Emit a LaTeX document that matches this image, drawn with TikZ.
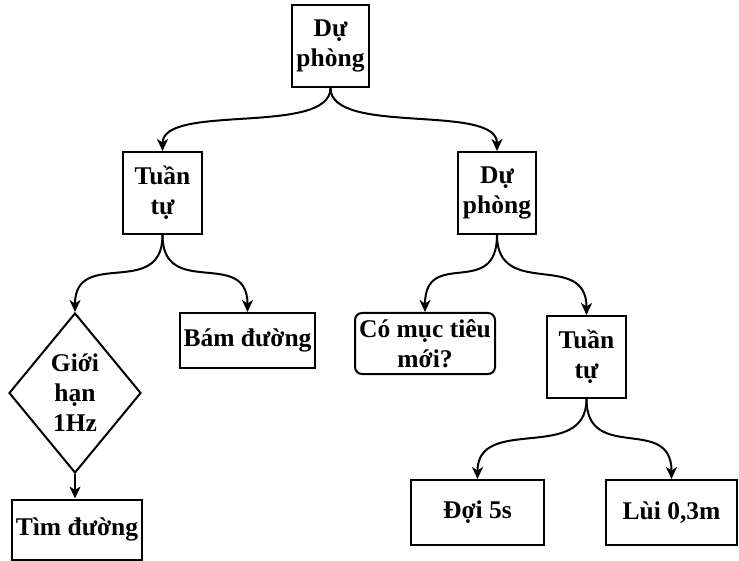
\documentclass[tikz,border=0pt]{standalone}
\usepackage{fontspec}
\setmainfont{Liberation Serif}
\usetikzlibrary{shapes.geometric,arrows.meta}
\begin{document}
\begin{tikzpicture}[x=1pt,y=-1pt,
  txt/.style={font=\fontsize{25.5}{30}\selectfont\bfseries, align=center, inner sep=0pt},
  box/.style={txt, draw, line width=2pt, rectangle},
  rbox/.style={box, rounded corners=7pt},
  dia/.style={txt, draw, line width=2pt, diamond, minimum width=132pt, minimum height=160pt, inner sep=-20pt},
  conn/.style={line width=2pt, -{Stealth[length=12pt,width=11pt,inset=3.5pt]}}
]
\useasboundingbox (0,0) rectangle (739,561);
\node[box, minimum width=77pt, minimum height=82pt] (root) at (330.5,46) {Dự\\phòng};
\node[box, minimum width=79pt, minimum height=82pt] (seqL) at (162.5,193) {Tuần\\tự};
\node[box, minimum width=78pt, minimum height=82pt] (fbR) at (497,193) {Dự\\phòng};
\node[dia] (lim) at (75,393) {Giới\\hạn\\1Hz};
\node[box, minimum width=135pt, minimum height=55pt] (follow) at (247.5,340.5) {Bám đường};
\node[rbox, minimum width=140pt, minimum height=61pt] (target) at (425,343.5) {Có mục tiêu\\mới?};
\node[box, minimum width=79pt, minimum height=82pt] (seqR) at (586.5,357) {Tuần\\tự};
\node[box, minimum width=130pt, minimum height=60pt] (find) at (77,529.5) {Tìm đường};
\node[box, minimum width=133pt, minimum height=65pt] (wait) at (477.5,512.5) {Đợi 5s};
\node[box, minimum width=131pt, minimum height=65pt] (back) at (671.5,512.5) {Lùi 0,3m};
\draw[conn] (root.south) .. controls +(0,48) and +(0,-48) .. (seqL.north);
\draw[conn] (root.south) .. controls +(0,48) and +(0,-48) .. (fbR.north);
\draw[conn] (seqL.south) .. controls +(0,65) and +(0,-65) .. (lim.north);
\draw[conn] (seqL.south) .. controls +(0,65) and +(0,-65) .. (follow.north);
\draw[conn] (fbR.south) .. controls +(0,65) and +(0,-65) .. (target.north);
\draw[conn] (fbR.south) .. controls +(0,65) and +(0,-65) .. (seqR.north);
\draw[conn] (seqR.south) .. controls +(0,65) and +(0,-65) .. (wait.north);
\draw[conn] (seqR.south) .. controls +(0,65) and +(0,-65) .. (back.north);
\draw[conn] (lim.south) -- (lim.south |- find.north);
\end{tikzpicture}
\end{document}
